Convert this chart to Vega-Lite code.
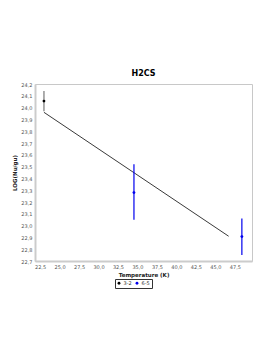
{
  "$schema": "https://vega.github.io/schema/vega-lite/v6.json",
  "width": 217,
  "height": 177,
  "padding": {"left": 12, "top": 70, "right": 21, "bottom": 5},
  "background": "white",
  "title": {"text": "H2CS", "fontSize": 8, "font": "DejaVu Sans", "fontWeight": "bold", "color": "black", "offset": 4},
  "datasets": {
    "obs": [
      {"transition": "3-2", "T": 23.0, "logN": 24.055, "lo": 23.97, "hi": 24.14},
      {"transition": "6-5", "T": 34.55, "logN": 23.28, "lo": 23.05, "hi": 23.52},
      {"transition": "6-5", "T": 48.4, "logN": 22.907, "lo": 22.75, "hi": 23.06}
    ],
    "fit": [
      {"T": 23.0, "logN": 23.96},
      {"T": 46.7, "logN": 22.91}
    ]
  },
  "encoding": {
    "x": {
      "field": "T", "type": "quantitative",
      "scale": {"domain": [21.85, 49.7], "nice": false, "zero": false},
      "axis": {
        "title": "Temperature (K)",
        "labelOverlap": false,
        "tickCount": 30,
        "values": [22.5, 25, 27.5, 30, 32.5, 35, 37.5, 40, 42.5, 45, 47.5],
        "labelExpr": "replace(format(datum.value, '.1f'), '.', ',')"
      }
    },
    "y": {
      "field": "logN", "type": "quantitative",
      "scale": {"domain": [22.7, 24.2], "nice": false, "zero": false},
      "axis": {
        "title": "LOG(Nu/gu)",
        "labelOverlap": false,
        "tickCount": 30,
        "values": [22.7, 22.8, 22.9, 23.0, 23.1, 23.2, 23.3, 23.4, 23.5, 23.6, 23.7, 23.8, 23.9, 24.0, 24.1, 24.2],
        "labelExpr": "replace(format(datum.value, '.1f'), '.', ',')"
      }
    }
  },
  "layer": [
    {
      "data": {"name": "fit"},
      "mark": {"type": "line", "color": "#222", "strokeWidth": 0.9}
    },
    {
      "data": {"name": "obs"},
      "mark": {"type": "rule", "strokeWidth": 1.2},
      "encoding": {
        "y": {"field": "lo", "type": "quantitative", "scale": {"domain": [22.7, 24.2], "nice": false, "zero": false}, "axis": {
          "title": "LOG(Nu/gu)",
          "labelOverlap": false,
          "tickCount": 30,
          "values": [22.7, 22.8, 22.9, 23.0, 23.1, 23.2, 23.3, 23.4, 23.5, 23.6, 23.7, 23.8, 23.9, 24.0, 24.1, 24.2],
          "labelExpr": "replace(format(datum.value, '.1f'), '.', ',')"
        }},
        "y2": {"field": "hi"},
        "color": {"field": "transition", "type": "nominal", "scale": {"domain": ["3-2", "6-5"], "range": ["#777777", "#0000ee"]}, "legend": null}
      }
    },
    {
      "data": {"name": "obs"},
      "mark": {"type": "point", "filled": true, "size": 8, "opacity": 1},
      "encoding": {
        "color": {
          "field": "transition", "type": "nominal",
          "scale": {"domain": ["3-2", "6-5"], "range": ["#000000", "#0000ee"]},
          "legend": {
            "title": null, "orient": "none", "direction": "horizontal",
            "legendX": 80, "legendY": 195,
            "strokeColor": "#333", "padding": 1.5, "symbolSize": 8, "symbolType": "circle",
            "labelFontSize": 5, "columnPadding": 2, "labelOffset": 2, "symbolOffset": 0
          }
        }
      }
    }
  ],
  "resolve": {"scale": {"color": "independent"}, "legend": {"color": "independent"}},
  "config": {
    "font": "DejaVu Sans",
    "view": {"stroke": "#c8c8c8", "strokeWidth": 1},
    "axis": {
      "domainColor": "#cccccc", "domainWidth": 2,
      "ticks": false, "grid": false, "labelOverlap": false,
      "labelFontSize": 5, "labelColor": "#555", "labelPadding": 3,
      "titleFontSize": 5.5, "titleColor": "#222", "titleFontWeight": "bold", "titlePadding": 3
    },
    "legend": {"labelColor": "#333"}
  }
}
